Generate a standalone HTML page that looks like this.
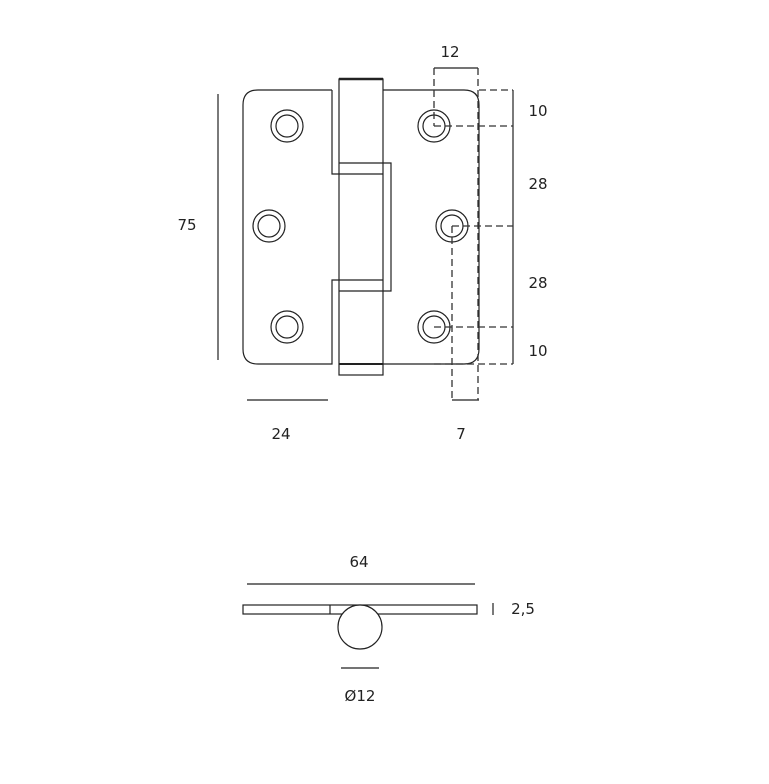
<!DOCTYPE html>
<html><head><style>body{margin:0;background:#fff}svg{display:block}text{font-family:"DejaVu Sans","Liberation Sans",sans-serif;font-size:15px;fill:#222}</style></head><body>
<svg width="769" height="784" viewBox="0 0 769 784" xmlns="http://www.w3.org/2000/svg">
<g fill="none" stroke="#222" stroke-width="1.2">
<path d="M332 90 H258 Q243 90 243 105 V349 Q243 364 258 364 H332 V280 H383 M332 90 V174 H383"/>
<path d="M383 90 H464 Q479 90 479 105 V349 Q479 364 464 364 H383"/>
<rect x="339" y="79" width="44" height="296"/>
<line x1="339" y1="79" x2="383" y2="79" stroke-width="2.5"/>
<line x1="339" y1="364" x2="383" y2="364" stroke-width="2"/>
<path d="M339 163 H391 V291 H339"/>
<circle cx="287" cy="126" r="16"/><circle cx="287" cy="126" r="11"/>
<circle cx="269" cy="226" r="16"/><circle cx="269" cy="226" r="11"/>
<circle cx="287" cy="327" r="16"/><circle cx="287" cy="327" r="11"/>
<circle cx="434" cy="126" r="16"/><circle cx="434" cy="126" r="11"/>
<circle cx="452" cy="226" r="16"/><circle cx="452" cy="226" r="11"/>
<circle cx="434" cy="327" r="16"/><circle cx="434" cy="327" r="11"/>
<line x1="218" y1="94" x2="218" y2="360"/>
<line x1="247" y1="400" x2="328" y2="400"/>
<line x1="434" y1="68" x2="478" y2="68"/>
<line x1="452" y1="400" x2="479" y2="400"/>
<line x1="513" y1="90" x2="513" y2="364"/>
<line x1="247" y1="584" x2="475" y2="584"/>
<rect x="243" y="605" width="234" height="9"/>
<line x1="330" y1="605" x2="330" y2="614"/>
<circle cx="360" cy="627" r="22" fill="#fff"/>
<line x1="341" y1="668" x2="379" y2="668"/>
<line x1="493" y1="603" x2="493" y2="615"/>
</g>
<g fill="none" stroke="#333" stroke-width="1.3" stroke-dasharray="7,4">
<line x1="434" y1="68" x2="434" y2="126"/>
<line x1="478" y1="68" x2="478" y2="400"/>
<line x1="452" y1="226" x2="452" y2="400"/>
<line x1="479" y1="90" x2="513" y2="90"/>
<line x1="434" y1="126" x2="513" y2="126"/>
<line x1="452" y1="226" x2="513" y2="226"/>
<line x1="434" y1="327" x2="513" y2="327"/>
<line x1="434" y1="364" x2="513" y2="364"/>
</g>
<text x="450" y="57" text-anchor="middle">12</text>
<text x="538" y="116" text-anchor="middle">10</text>
<text x="538" y="189" text-anchor="middle">28</text>
<text x="538" y="288" text-anchor="middle">28</text>
<text x="538" y="356" text-anchor="middle">10</text>
<text x="187" y="230" text-anchor="middle">75</text>
<text x="281" y="439" text-anchor="middle">24</text>
<text x="461" y="439" text-anchor="middle">7</text>
<text x="359" y="567" text-anchor="middle">64</text>
<text x="523" y="614" text-anchor="middle">2,5</text>
<text x="360" y="701" text-anchor="middle">Ø12</text>
</svg>
</body></html>
